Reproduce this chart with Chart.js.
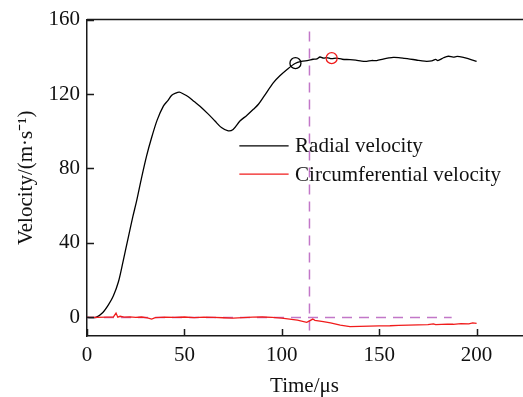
<!DOCTYPE html>
<html>
<head>
<meta charset="utf-8">
<script src="https://cdn.jsdelivr.net/npm/chart.js@4.4.1/dist/chart.umd.min.js"></script>
<style>
  body { margin: 0; background: #fff; }
  canvas { display: block; }
</style>
</head>
<body>
<canvas id="chartId" width="523" height="397"></canvas>
<script>
// radial velocity (black)
const radialTime = [0, 4.6, 8, 10.9, 13.5, 16.1, 18.5, 21.2, 23.5, 25.5, 28, 30.6, 33, 36, 39.2, 41.5, 43.5, 45.5, 47.4, 49.5,
  52, 55, 58, 62, 65.7, 69, 72.5, 75, 78.5, 82, 85.4, 88, 91, 95.6, 99, 103, 106.8, 110, 113.6, 116,
  118, 119.6, 121.5, 123, 125.6, 128, 131, 135, 138, 141, 143.6, 146, 148.7, 152, 155, 157.2, 160, 163, 165.8, 169,
  172, 174.4, 177, 179, 180, 181.2, 183, 185.5, 188, 190, 193.2, 196, 200];
const radialValues = [0, 0, 2.5, 6.6, 11.5, 19, 30, 43, 54, 62.7, 75, 86.8, 96, 106, 113.5, 116.5, 119.4, 120.5, 121, 120,
  118.5, 116, 113.5, 109.5, 105.5, 102, 100.2, 101, 105.5, 108.5, 111.8, 114.5, 119, 126, 129.8, 133.5, 136.4, 137.5, 138.1, 138.7,
  138.9, 139.9, 139.3, 139.6, 139, 139.3, 138.7, 138.5, 138.2, 137.7, 137.6, 138, 138, 138.8, 139.4, 139.7, 139.6, 139.2, 138.8, 138.3,
  137.8, 137.6, 137.8, 138.6, 138, 138.5, 139.5, 140.3, 139.8, 140.2, 139.7, 138.9, 137.6];

// circumferential velocity (red)
const circTime = [0, 5, 10, 13.5, 14.9, 15.8, 17, 19, 22, 25, 28, 31, 33.2, 35, 40, 45, 50, 55, 60, 65,
  70, 75, 80, 85, 90, 95, 100, 104, 108, 112.8, 114, 115.9, 117, 121.3, 125, 130, 135, 140, 145, 150,
  155.5, 160, 165, 170, 175, 177.8, 179, 185, 188, 192, 196, 198, 200];
const circValues = [0, 0, 0.1, 0.2, 2.3, 0.1, 0.6, 0.1, 0.3, 0, 0.2, -0.3, -0.9, -0.1, 0.1, 0, 0.2, -0.1, 0.1, 0,
  -0.2, -0.4, -0.1, 0.1, 0.2, 0, -0.4, -0.9, -1.5, -2.7, -2.0, -0.9, -1.6, -2.3, -3, -4.2, -5, -4.8, -4.7, -4.6,
  -4.5, -4.3, -4.2, -4.0, -3.9, -3.5, -3.9, -3.6, -3.7, -3.4, -3.5, -3.0, -3.2];

// circled points
const markerTime = [107, 125.6];
const markerValues = [136.6, 139.3];

// dashed guide lines
const guideVTime = [114.2, 114.2];
const guideVValues = [153.6, -10];
const guideHTime = [0, 187.2];
const guideHValues = [0, 0];

const xTicks = [0, 50, 100, 150, 200];
const yTicks = [0, 40, 80, 120, 160];

function pts(xs, ys) {
  return xs.map((x, i) => ({ x: x, y: ys[i] }));
}

const fontFamily = "'Liberation Serif', 'Times New Roman', serif";
const axisColor = '#1a1a1a';
const guideColor = '#c277c8';

const frame = {
  id: 'frame',
  afterDatasetsDraw(chart) {
    const ctx = chart.ctx;
    const a = chart.chartArea;
    const xs = chart.scales.x, ys = chart.scales.y;
    ctx.save();
    ctx.strokeStyle = axisColor;
    ctx.lineWidth = 1.5;
    // top border
    ctx.beginPath();
    ctx.moveTo(a.left, a.top);
    ctx.lineTo(a.right + 1, a.top);
    ctx.stroke();
    // inward ticks
    ctx.beginPath();
    xTicks.forEach(v => {
      const px = Math.round(xs.getPixelForValue(v)) + 0.5;
      ctx.moveTo(px, a.bottom);
      ctx.lineTo(px, a.bottom - 7);
    });
    yTicks.forEach(v => {
      const py = Math.round(ys.getPixelForValue(v)) + 0.5;
      ctx.moveTo(a.left, py);
      ctx.lineTo(a.left + 7, py);
    });
    ctx.stroke();

    // legend
    const items = [chart.data.datasets[0], chart.data.datasets[1]];
    const lx0 = xs.getPixelForValue(78.2), lx1 = xs.getPixelForValue(103.5);
    const tx = xs.getPixelForValue(106.8);
    ctx.font = "21px " + fontFamily;
    ctx.textBaseline = 'middle';
    items.forEach((ds, i) => {
      const y = ys.getPixelForValue(i === 0 ? 92.2 : 77.0);
      ctx.strokeStyle = ds.borderColor;
      ctx.lineWidth = 1.3;
      ctx.beginPath();
      ctx.moveTo(lx0, y);
      ctx.lineTo(lx1, y);
      ctx.stroke();
      ctx.fillStyle = '#111';
      ctx.fillText(ds.label, tx, y + 1);
    });
    ctx.restore();
  }
};

const chrt = document.getElementById('chartId').getContext('2d');

window.lineChart = new Chart(chrt, {
  type: 'line',
  data: {
    datasets: [
      {
        label: 'Radial velocity',
        data: pts(radialTime, radialValues),
        borderColor: '#000000',
        borderWidth: 1.3,
        pointRadius: 0,
        tension: 0.3,
        order: 3
      },
      {
        label: 'Circumferential velocity',
        data: pts(circTime, circValues),
        borderColor: '#f01c1c',
        borderWidth: 1.3,
        pointRadius: 0,
        tension: 0,
        order: 2
      },
      {
        label: 'guideV',
        data: pts(guideVTime, guideVValues),
        borderColor: guideColor,
        borderWidth: 1.5,
        borderDash: [10, 7],
        pointRadius: 0,
        order: 4
      },
      {
        label: 'guideH',
        data: pts(guideHTime, guideHValues),
        borderColor: guideColor,
        borderWidth: 1.5,
        borderDash: [10, 7],
        pointRadius: 0,
        order: 4
      },
      {
        label: 'markers',
        data: pts(markerTime, markerValues),
        showLine: false,
        pointRadius: 5.5,
        pointBorderWidth: 1.3,
        pointBackgroundColor: 'rgba(0,0,0,0)',
        pointBorderColor: ['#000000', '#f01c1c'],
        order: 1
      }
    ]
  },
  options: {
    responsive: false,
    animation: false,
    layout: { autoPadding: false, padding: { top: 18, right: 1, left: 0, bottom: 0 } },
    plugins: {
      legend: { display: false },
      tooltip: { enabled: false }
    },
    scales: {
      x: {
        type: 'linear',
        min: 0,
        max: 223.3,
        afterBuildTicks: s => { s.ticks = xTicks.map(v => ({ value: v })); },
        afterFit: s => { s.height = 61; s.paddingLeft = 0; s.paddingRight = 0; },
        grid: { display: false, drawTicks: false },
        border: { display: true, color: axisColor, width: 1.5 },
        ticks: {
          color: '#111',
          padding: 7,
          maxRotation: 0,
          font: { family: fontFamily, size: 21 }
        },
        title: {
          display: true,
          text: 'Time/μs',
          color: '#111',
          padding: { top: 0, bottom: -2 },
          font: { family: fontFamily, size: 21 }
        }
      },
      y: {
        type: 'linear',
        min: -10,
        max: 160,
        afterBuildTicks: s => { s.ticks = yTicks.map(v => ({ value: v })); },
        afterFit: s => { s.width = 87; },
        grid: { display: false, drawTicks: false },
        border: { display: true, color: axisColor, width: 1.5 },
        ticks: {
          color: '#111',
          padding: 7,
          font: { family: fontFamily, size: 21 }
        },
        title: {
          display: true,
          text: 'Velocity/(m·s⁻¹)',
          color: '#111',
          padding: { top: 14, bottom: 0 },
          font: { family: fontFamily, size: 21 }
        }
      }
    }
  },
  plugins: [frame]
});
</script>
</body>
</html>
